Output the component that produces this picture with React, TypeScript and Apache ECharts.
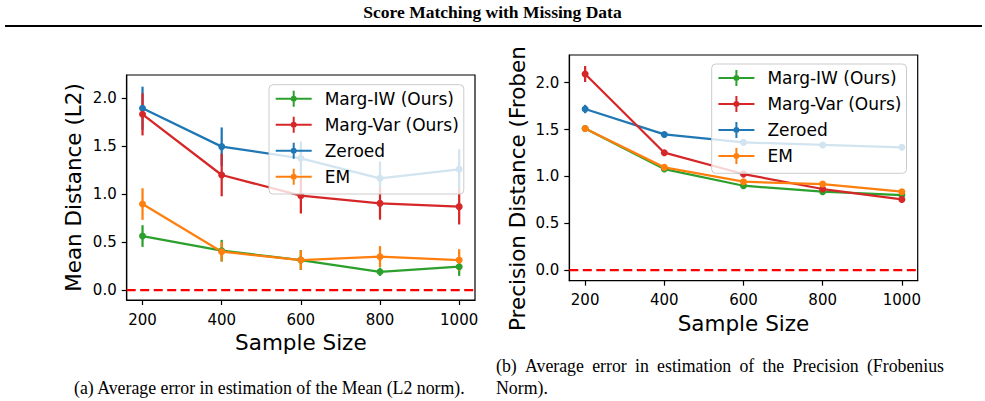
import React, { useEffect, useRef } from 'react';
import * as echarts from 'echarts';

// ---------- data ----------
const sampleSizes = [200, 400, 600, 800, 1000];
const xTickValues = [200, 400, 600, 800, 1000];
const yTickValues = [0, 0.5, 1.0, 1.5, 2.0];
const zeroLevel = 0;

const methodNames = ['Marg-IW (Ours)', 'Marg-Var (Ours)', 'Zeroed', 'EM'];

// (a) Mean distance (L2)
const meanMargIW = [0.563, 0.41, 0.313, 0.19, 0.243];
const meanMargIWErr = [0.113, 0.113, 0.104, 0.043, 0.095];
const meanMargVar = [1.833, 1.2, 0.984, 0.904, 0.87];
const meanMargVarErr = [0.22, 0.222, 0.186, 0.17, 0.186];
const meanZeroed = [1.896, 1.496, 1.374, 1.165, 1.259];
const meanZeroedErr = [0.225, 0.2, 0.175, 0.175, 0.21];
const meanEM = [0.897, 0.4, 0.313, 0.348, 0.313];
const meanEMErr = [0.165, 0.1, 0.1, 0.11, 0.113];

// (b) Precision distance (Frobenius)
const precMargIW = [1.512, 1.078, 0.9, 0.836, 0.8];
const precMargIWErr = [0.02, 0.02, 0.02, 0.02, 0.02];
const precMargVar = [2.093, 1.253, 1.025, 0.865, 0.754];
const precMargVarErr = [0.085, 0.03, 0.035, 0.02, 0.02];
const precZeroed = [1.719, 1.448, 1.363, 1.335, 1.31];
const precZeroedErr = [0.045, 0.025, 0.025, 0.02, 0.025];
const precEM = [1.512, 1.096, 0.943, 0.918, 0.836];
const precEMErr = [0.02, 0.02, 0.02, 0.02, 0.02];

const headerTitle = 'Score Matching with Missing Data';
const captionA = '(a) Average error in estimation of the Mean (L2 norm).';
const captionB1 = '(b) Average error in estimation of the Precision (Frobenius';
const captionB2 = 'Norm).';
const xAxisTitle = 'Sample Size';
const yTitleA = 'Mean Distance (L2)';
const yTitleB = 'Precision Distance (Froben';

// ---------- styles ----------
const methodColors = ['#2ca02c', '#d62728', '#1f77b4', '#ff7f0e'];
const drawOrder = [2, 0, 1, 3];
const LW = 2.25;
const SANS = 'DejaVu Sans';
const SERIF = 'Liberation Serif';
const legendIcon =
  'path://M0 7H36V9H0Z M17 0H19V16H17Z M15 8A3 3 0 1 1 21 8A3 3 0 1 1 15 8Z';

function buildSeries(gi: number, values: number[][], errs: number[][]) {
  const out: any[] = [];
  drawOrder.forEach((m) => {
    const color = methodColors[m];
    out.push({
      type: 'custom',
      name: methodNames[m] + ' err',
      xAxisIndex: gi,
      yAxisIndex: gi,
      silent: true,
      z: 2,
      data: sampleSizes.map((x, i) => [x, values[m][i] - errs[m][i], values[m][i] + errs[m][i]]),
      encode: { x: 0, y: [1, 2] },
      renderItem: (params: any, api: any) => {
        const a = api.coord([api.value(0), api.value(1)]);
        const b = api.coord([api.value(0), api.value(2)]);
        return {
          type: 'line',
          shape: { x1: a[0], y1: a[1], x2: b[0], y2: b[1] },
          style: { stroke: color, lineWidth: LW },
        };
      },
    });
    out.push({
      type: 'line',
      name: methodNames[m],
      xAxisIndex: gi,
      yAxisIndex: gi,
      silent: true,
      z: 2,
      color,
      data: sampleSizes.map((x, i) => [x, values[m][i]]),
      symbol: 'circle',
      symbolSize: 7,
      showSymbol: true,
      lineStyle: { color, width: LW },
      itemStyle: { color, borderWidth: 0 },
    });
  });
  out[1].markLine = {
    silent: true,
    symbol: 'none',
    label: { show: false },
    lineStyle: { color: '#ff0000', type: [9, 4.5], width: LW },
    data: [{ yAxis: zeroLevel }],
  };
  return out;
}

function axisPair(gi: number, ymin: number, ymax: number, yName: string | null, yGap: number) {
  const common = {
    gridIndex: gi,
    type: 'value',
    axisLine: { show: true, onZero: false, lineStyle: { color: '#000', width: 1.2 } },
    axisTick: { show: true, length: 5, lineStyle: { color: '#000', width: 1.2 } },
    splitLine: { show: false },
  };
  const x = {
    ...common,
    min: 160,
    max: 1040,
    axisTick: { ...common.axisTick, customValues: xTickValues },
    axisLabel: {
      customValues: xTickValues,
      color: '#000',
      fontFamily: SANS,
      fontSize: 15,
      margin: 12,
      formatter: (v: number) => String(v),
    },
    name: xAxisTitle,
    nameLocation: 'middle',
    nameGap: 29,
    nameTextStyle: { color: '#000', fontFamily: SANS, fontSize: 21.5 },
  };
  const y: any = {
    ...common,
    min: ymin,
    max: ymax,
    axisTick: { ...common.axisTick, customValues: yTickValues },
    axisLabel: {
      customValues: yTickValues,
      color: '#000',
      fontFamily: SANS,
      fontSize: 15,
      margin: 10,
      formatter: (v: number) => v.toFixed(1),
    },
  };
  if (yName) {
    y.name = yName;
    y.nameLocation = 'middle';
    y.nameGap = yGap;
    y.nameTextStyle = { color: '#000', fontFamily: SANS, fontSize: 21.5 };
  }
  return { x, y };
}

function legendAt(left: number, top: number) {
  return {
    orient: 'vertical',
    left,
    top,
    itemWidth: 36,
    itemHeight: 16,
    itemGap: 9,
    padding: [5.6, 5, 8.7, 6.7],
    backgroundColor: 'rgba(255,255,255,0.8)',
    borderColor: '#cccccc',
    borderWidth: 1,
    borderRadius: 4,
    selectedMode: false,
    itemStyle: { borderWidth: 0 },
    textStyle: { color: '#000', fontFamily: SANS, fontSize: 17, lineHeight: 16, padding: [0, 0, 0, 8] },
    data: methodNames.map((n) => ({ name: n, icon: legendIcon })),
  };
}

function justifiedWords(text: string, x0: number, x1: number, y: number, font: string, fontSize: number) {
  const words = text.split(' ');
  const ctx = document.createElement('canvas').getContext('2d') as CanvasRenderingContext2D;
  ctx.font = `${fontSize}px "${font}"`;
  const widths = words.map((w) => ctx.measureText(w).width);
  const total = widths.reduce((a, b) => a + b, 0);
  const gap = (x1 - x0 - total) / (words.length - 1);
  let cx = x0;
  return words.map((w, i) => {
    const el = {
      type: 'text',
      x: cx,
      y,
      silent: true,
      style: { text: w, fontFamily: font, fontSize, fill: '#000', textAlign: 'left', textVerticalAlign: 'middle' },
    };
    cx += widths[i] + gap;
    return el;
  });
}

export default function App() {
  const ref = useRef<HTMLDivElement>(null);
  useEffect(() => {
    if (!ref.current) return;
    const chart = echarts.init(ref.current, null, { renderer: 'svg' });
    const a = axisPair(0, -0.104, 2.243, yTitleA, 42);
    const b = axisPair(1, -0.114, 2.296, null, 0);
    const meanVals = [meanMargIW, meanMargVar, meanZeroed, meanEM];
    const meanErrs = [meanMargIWErr, meanMargVarErr, meanZeroedErr, meanEMErr];
    const precVals = [precMargIW, precMargVar, precZeroed, precEM];
    const precErrs = [precMargIWErr, precMargVarErr, precZeroedErr, precEMErr];
    const capFont = 17.8;
    chart.setOption({
      animation: false,
      backgroundColor: '#fff',
      grid: [
        { left: 126.7, top: 75, width: 348.3, height: 225, show: true, borderColor: '#000', borderWidth: 1.2, backgroundColor: 'transparent' },
        { left: 569.3, top: 55, width: 348.4, height: 225.7, show: true, borderColor: '#000', borderWidth: 1.2, backgroundColor: 'transparent' },
      ],
      xAxis: [a.x, b.x],
      yAxis: [a.y, b.y],
      legend: [legendAt(269, 84.7), legendAt(711.7, 64)],
      series: [...buildSeries(0, meanVals, meanErrs), ...buildSeries(1, precVals, precErrs)],
      graphic: [
        {
          type: 'text',
          x: 492.5,
          y: 12.4,
          silent: true,
          style: { text: headerTitle, fontFamily: SERIF, fontWeight: 'bold', fontSize: 17.5, fill: '#000', textAlign: 'center', textVerticalAlign: 'middle' },
        },
        { type: 'rect', silent: true, shape: { x: 5, y: 25, width: 977, height: 2 }, style: { fill: '#000' } },
        {
          type: 'text',
          x: 517.6,
          y: 331,
          rotation: Math.PI / 2,
          silent: true,
          style: { text: yTitleB, fontFamily: SANS, fontSize: 21.5, fill: '#000', textAlign: 'left', textVerticalAlign: 'middle' },
        },
        {
          type: 'text',
          x: 74,
          y: 387.5,
          silent: true,
          style: { text: captionA, fontFamily: SERIF, fontSize: capFont, fill: '#000', textAlign: 'left', textVerticalAlign: 'middle' },
        },
        ...justifiedWords(captionB1, 496, 944, 366, SERIF, capFont),
        {
          type: 'text',
          x: 496,
          y: 387.5,
          silent: true,
          style: { text: captionB2, fontFamily: SERIF, fontSize: capFont, fill: '#000', textAlign: 'left', textVerticalAlign: 'middle' },
        },
      ],
    });
    return () => chart.dispose();
  }, []);
  return <div ref={ref} style={{ position: 'fixed', left: 0, top: 0, width: 985, height: 401 }} />;
}
